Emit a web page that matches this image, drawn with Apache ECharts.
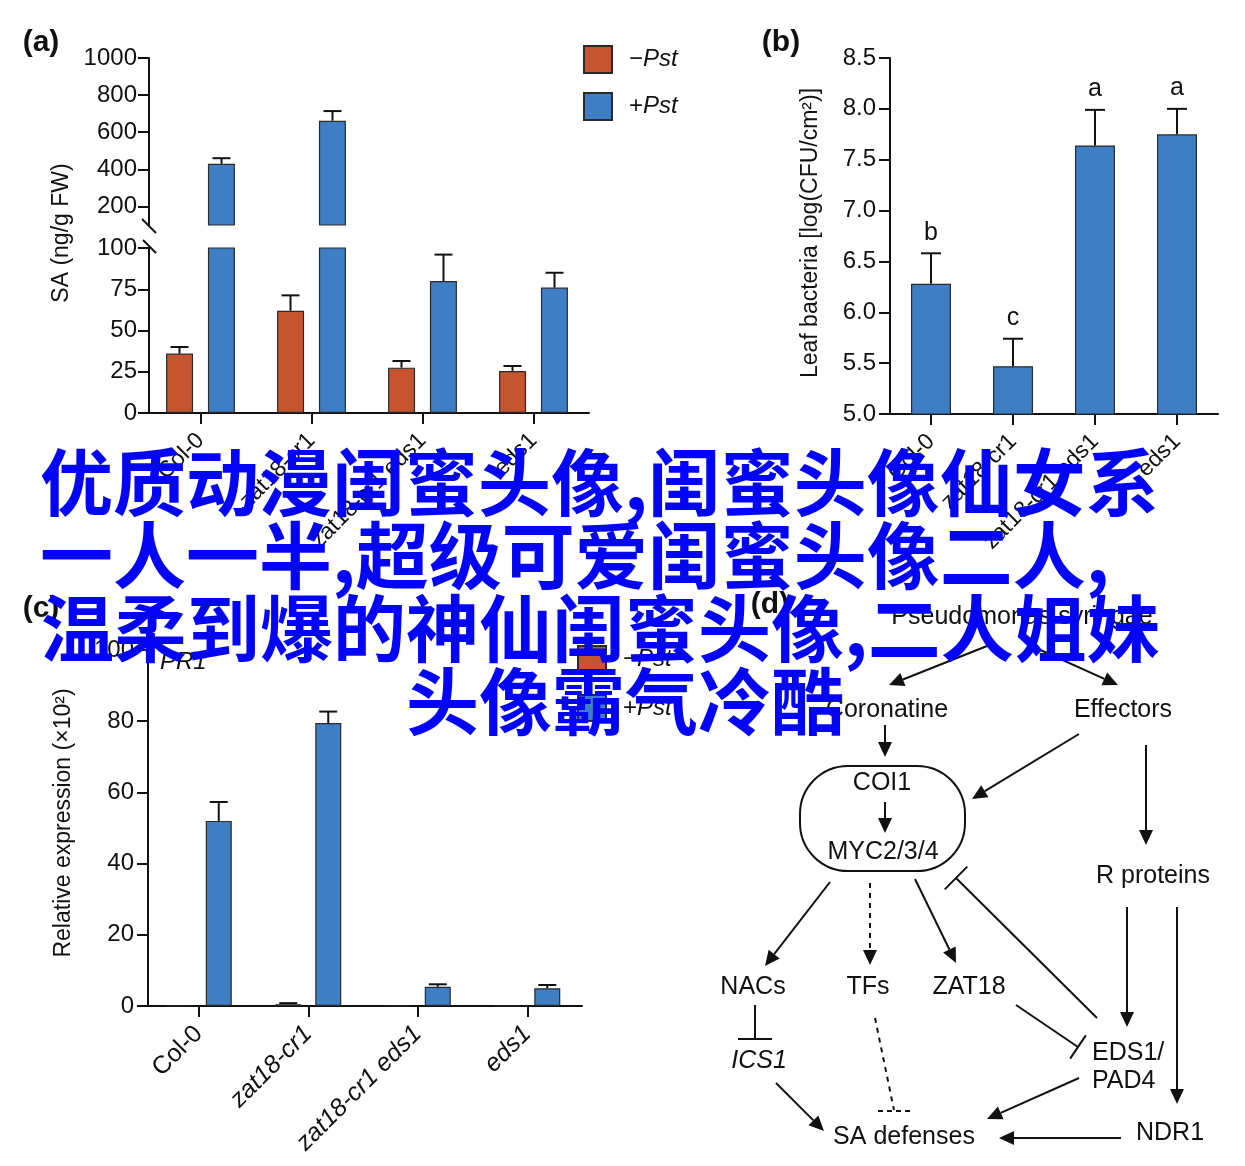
<!DOCTYPE html>
<html><head><meta charset="utf-8">
<script src="https://cdn.jsdelivr.net/npm/echarts@6/dist/echarts.min.js"></script>
<style>html,body{margin:0;padding:0;background:#fff}#c{width:1245px;height:1166px}</style>
</head><body><div id="c"></div><script>
// ---------- data ----------
const genotypes = ['Col-0', 'zat18-cr1', 'zat18-cr1 eds1', 'eds1'];
// (a) SA content
const saMock = [36, 62, 27.5, 25.5];
const saMockErr = [4, 9.3, 4, 3];
const saPst = [430, 662, 80, 76];
const saPstErr = [30, 52, 16, 9];
const saTopTicks = [200, 400, 600, 800, 1000];
// (b) leaf bacteria
const bacteria = [6.28, 5.47, 7.64, 7.75];
const bacteriaErr = [0.30, 0.27, 0.35, 0.25];
const bacteriaLetters = ['b', 'c', 'a', 'a'];
// (c) PR1 expression
const pr1Mock = [0, 0.5, 0, 0];
const pr1MockErr = [0, 0.3, 0, 0];
const pr1Pst = [52, 79.5, 5.4, 5.0];
const pr1PstErr = [5.3, 3.2, 0.7, 0.9];
// overlay caption
const captionLines = ['优质动漫闺蜜头像,闺蜜头像仙女系', '一人一半,超级可爱闺蜜头像二人,', '温柔到爆的神仙闺蜜头像,二人姐妹', '头像霸气冷酷'];

// ---------- styles ----------
const RED = '#c5552f', BLUE = '#3e7ec5', INK = '#111';
const FONT = '"Liberation Sans", Arial, Helvetica, sans-serif';
const chart = echarts.init(document.getElementById('c'), null, {renderer: 'canvas'});

function errRender(offset, capHalf, letters) {
  return function (params, api) {
    const x = api.value(0), v = api.value(1), e = api.value(2);
    const p0 = api.coord([x, v]);
    const p1 = api.coord([x, v + e]);
    const cx = p0[0] + offset;
    const ch = [
      {type: 'line', shape: {x1: cx, y1: p0[1], x2: cx, y2: p1[1]}, style: {stroke: INK, lineWidth: 2}},
      {type: 'line', shape: {x1: cx - capHalf, y1: p1[1], x2: cx + capHalf, y2: p1[1]}, style: {stroke: INK, lineWidth: 2}}
    ];
    if (letters) {
      ch.push({type: 'text', style: {text: letters[params.dataIndex], x: cx, y: p1[1] - 8, textAlign: 'center', textVerticalAlign: 'bottom', font: '25px ' + FONT, fill: INK}});
    }
    return {type: 'group', children: ch};
  };
}
function errData(vals, errs, filter) {
  const out = [];
  vals.forEach((v, i) => { if (filter(v, errs[i])) out.push([i, v, errs[i]]); });
  return out;
}
const axisLineStyle = {show: true, lineStyle: {color: INK, width: 2}};
function yAx(grid, min, max, interval, fs, extra, lab, tick) {
  return Object.assign({
    type: 'value', gridIndex: grid, min: min, max: max, interval: interval,
    axisLine: axisLineStyle, splitLine: {show: false},
    axisTick: Object.assign({show: true, length: 11, lineStyle: {color: INK, width: 2}}, tick || {}),
    axisLabel: Object.assign({color: INK, fontSize: fs, fontFamily: FONT, margin: 12, formatter: v => String(v)}, lab || {})
  }, extra || {});
}
function xAx(grid, fs, rich, margin) {
  return {
    type: 'category', gridIndex: grid, data: genotypes,
    axisLine: axisLineStyle,
    axisTick: {show: true, alignWithLabel: true, length: 11, lineStyle: {color: INK, width: 2}},
    axisLabel: {rotate: 45, color: INK, fontSize: fs, fontFamily: FONT, margin: margin, interval: 0,
      formatter: rich ? (v => v === 'Col-0' ? v : '{i|' + v + '}') : null,
      rich: rich ? {i: {fontStyle: 'italic', fontSize: fs, fontFamily: FONT, color: INK}} : undefined}
  };
}
function bar(name, color, xi, yi, data, w, gap) {
  return {type: 'bar', name: name, xAxisIndex: xi, yAxisIndex: yi, data: data, clip: true, silent: true,
    barWidth: w || 27, barGap: gap || '55%',
    itemStyle: {color: color, borderColor: '#2a2a2a', borderWidth: 1.2}};
}
function errSeries(xi, yi, data, offset, capHalf, letters) {
  return {type: 'custom', xAxisIndex: xi, yAxisIndex: yi, data: data, encode: {x: 0, y: 1}, renderItem: errRender(offset, capHalf, letters), silent: true, z: 5};
}
const legendText = {color: INK, fontSize: 24, fontFamily: FONT, padding: [0, 0, 0, 12],
  rich: {n: {fontSize: 24, fontFamily: FONT, color: INK}, i: {fontSize: 24, fontStyle: 'italic', fontFamily: FONT, color: INK}}};
const legendFmt = n => '{n|' + n.charAt(0) + '}{i|' + n.slice(1) + '}';

// ---------- diagram helpers ----------
function arrow(x1, y1, x2, y2, dashed) {
  const a = Math.atan2(y2 - y1, x2 - x1), L = 15, W = 7;
  const bx = x2 - L * Math.cos(a), by = y2 - L * Math.sin(a);
  return [
    {type: 'line', shape: {x1: x1, y1: y1, x2: bx, y2: by}, style: {stroke: INK, lineWidth: 2, lineDash: dashed ? [5, 5] : null}},
    {type: 'polygon', shape: {points: [[x2, y2], [bx + W * Math.sin(a), by - W * Math.cos(a)], [bx - W * Math.sin(a), by + W * Math.cos(a)]]}, style: {fill: INK}}
  ];
}
function inhibit(x1, y1, x2, y2, h) {
  const a = Math.atan2(y2 - y1, x2 - x1);
  return [
    {type: 'line', shape: {x1: x1, y1: y1, x2: x2, y2: y2}, style: {stroke: INK, lineWidth: 2}},
    {type: 'line', shape: {x1: x2 + h * Math.sin(a), y1: y2 - h * Math.cos(a), x2: x2 - h * Math.sin(a), y2: y2 + h * Math.cos(a)}, style: {stroke: INK, lineWidth: 2}}
  ];
}
function txt(s, x, y, opt) {
  return {type: 'text', x: x, y: y, rotation: (opt && opt.rot) || 0, z: 10,
    style: {text: s, font: (opt && opt.font) || ('25px ' + FONT), fill: INK, textAlign: (opt && opt.align) || 'center', textVerticalAlign: 'middle'}};
}

let g = [];
// panel letters
g.push(txt('(a)', 41, 43, {font: 'bold 30px ' + FONT}));
g.push(txt('(b)', 781, 43, {font: 'bold 30px ' + FONT}));
g.push(txt('(c)', 41, 609, {font: 'bold 30px ' + FONT}));
g.push(txt('(d)', 770, 605, {font: 'bold 30px ' + FONT}));
// axis titles
g.push(txt('SA (ng/g FW)', 62, 233, {rot: Math.PI / 2, font: '23px ' + FONT}));
g.push(txt('Leaf bacteria [log(CFU/cm²)]', 811, 233, {rot: Math.PI / 2, font: '23px ' + FONT}));
g.push(txt('Relative expression (×10²)', 64, 823, {rot: Math.PI / 2, font: '23px ' + FONT}));
g.push(txt('PR1', 160, 662, {align: 'left', font: 'italic 24px ' + FONT}));
// axis break marks
g.push({type: 'line', shape: {x1: 142, y1: 219, x2: 156, y2: 233}, style: {stroke: INK, lineWidth: 2}, z: 10});
g.push({type: 'line', shape: {x1: 143, y1: 240, x2: 156, y2: 253}, style: {stroke: INK, lineWidth: 2}, z: 10});

// diagram (d)
g.push(txt('Pseudomonas syringae', 1022, 617));
g = g.concat(arrow(987, 646, 889, 685), arrow(1036, 648, 1118, 685));
g.push(txt('Coronatine', 887, 710), txt('Effectors', 1123, 710));
g = g.concat(arrow(885, 725, 885, 757));
g.push({type: 'rect', shape: {x: 800, y: 766, width: 165, height: 105, r: 48}, style: {fill: 'none', stroke: INK, lineWidth: 2}});
g.push(txt('COI1', 882, 783));
g = g.concat(arrow(885, 802, 885, 833));
g.push(txt('MYC2/3/4', 883, 852));
g = g.concat(arrow(1079, 734, 972, 799), arrow(1146, 745, 1146, 845));
g.push(txt('R proteins', 1153, 876));
g = g.concat(arrow(830, 882, 765, 966), arrow(870, 883, 870, 965, true), arrow(915, 879, 956, 963));
g = g.concat(inhibit(1097, 1018, 956, 878, 16));
g.push(txt('NACs', 753, 987), txt('TFs', 868, 987), txt('ZAT18', 969, 987));
g = g.concat(inhibit(755, 1005, 755, 1039, 17));
g.push(txt('ICS1', 759, 1061, {font: 'italic 25px ' + FONT}));
g = g.concat(inhibit(1016, 1005, 1078, 1047, 14));
g = g.concat(arrow(1127, 907, 1127, 1027), arrow(1177, 907, 1177, 1104));
g.push(txt('EDS1/', 1092, 1053, {align: 'left'}), txt('PAD4', 1092, 1081, {align: 'left'}));
g = g.concat(arrow(776, 1083, 824, 1131));
g.push({type: 'line', shape: {x1: 875, y1: 1018, x2: 894, y2: 1110}, style: {stroke: INK, lineWidth: 2, lineDash: [5, 5]}});
g.push({type: 'line', shape: {x1: 878, y1: 1111, x2: 912, y2: 1111}, style: {stroke: INK, lineWidth: 2, lineDash: [5, 4]}});
g = g.concat(arrow(1079, 1078, 987, 1119), arrow(1121, 1138, 999, 1138));
g.push(txt('SA defenses', 904, 1137), txt('NDR1', 1170, 1133));

// caption overlay
const capPos = [[40, 482], [40, 555], [41, 628], [406, 701]];
captionLines.forEach((s, i) => {
  g.push({type: 'text', x: capPos[i][0], y: capPos[i][1], z: 100,
    style: {text: s, font: 'bold 73px "Noto Sans CJK SC", sans-serif', fill: '#0505f5', textAlign: 'left', textVerticalAlign: 'middle'}});
});

const option = {
  animation: false,
  backgroundColor: '#fff',
  grid: [
    {left: 145, width: 444, top: 58, height: 167},
    {left: 145, width: 444, top: 248, height: 165},
    {left: 890, width: 328, top: 58, height: 356},
    {left: 144, width: 438, top: 650, height: 356}
  ],
  xAxis: [
    Object.assign(xAx(0, 23, false, 14), {show: false}),
    xAx(1, 23, false, 24),
    xAx(2, 23, false, 24),
    xAx(3, 25, true, 24)
  ],
  yAxis: [
    yAx(0, 100, 1000, 100, 24, {offset: -4}, {customValues: saTopTicks}, {customValues: saTopTicks}),
    yAx(1, 0, 100, 25, 24, {offset: -4}),
    yAx(2, 5, 8.5, 0.5, 24, {}, {margin: 14, formatter: v => v.toFixed(1)}),
    yAx(3, 0, 100, 20, 24, {offset: -4}, {margin: 14})
  ],
  legend: [
    {data: ['−Pst', '+Pst'], orient: 'vertical', left: 583, top: 45, padding: 0, itemWidth: 28, itemHeight: 27, itemGap: 18, icon: 'rect', textStyle: legendText, formatter: legendFmt, selectedMode: false},
    {data: ['−Pst', '+Pst'], orient: 'vertical', left: 577, top: 645, padding: 0, itemWidth: 28, itemHeight: 26, itemGap: 21, icon: 'rect', textStyle: legendText, formatter: legendFmt, selectedMode: false}
  ],
  graphic: g,
  series: [
    bar('−Pst', RED, 0, 0, saMock.map(() => '-')),
    bar('+Pst', BLUE, 0, 0, saPst.map(v => v > 100 ? v : '-')),
    bar('−Pst', RED, 1, 1, saMock),
    bar('+Pst', BLUE, 1, 1, saPst),
    errSeries(0, 0, errData(saPst, saPstErr, v => v > 100), 21, 9),
    errSeries(1, 1, errData(saPst, saPstErr, (v, e) => v + e <= 100), 21, 9),
    errSeries(1, 1, errData(saMock, saMockErr, () => true), -21, 9),
    bar('Leaf bacteria', BLUE, 2, 2, bacteria, 40, '0%'),
    errSeries(2, 2, bacteria.map((v, i) => [i, v, bacteriaErr[i]]), 0, 10, bacteriaLetters),
    bar('−Pst', RED, 3, 3, pr1Mock, 26, '54%'),
    bar('+Pst', BLUE, 3, 3, pr1Pst, 26, '54%'),
    errSeries(3, 3, errData(pr1Mock, pr1MockErr, v => v > 0), -20, 9),
    errSeries(3, 3, errData(pr1Pst, pr1PstErr, () => true), 20, 9)
  ]
};
chart.setOption(option);
</script></body></html>
